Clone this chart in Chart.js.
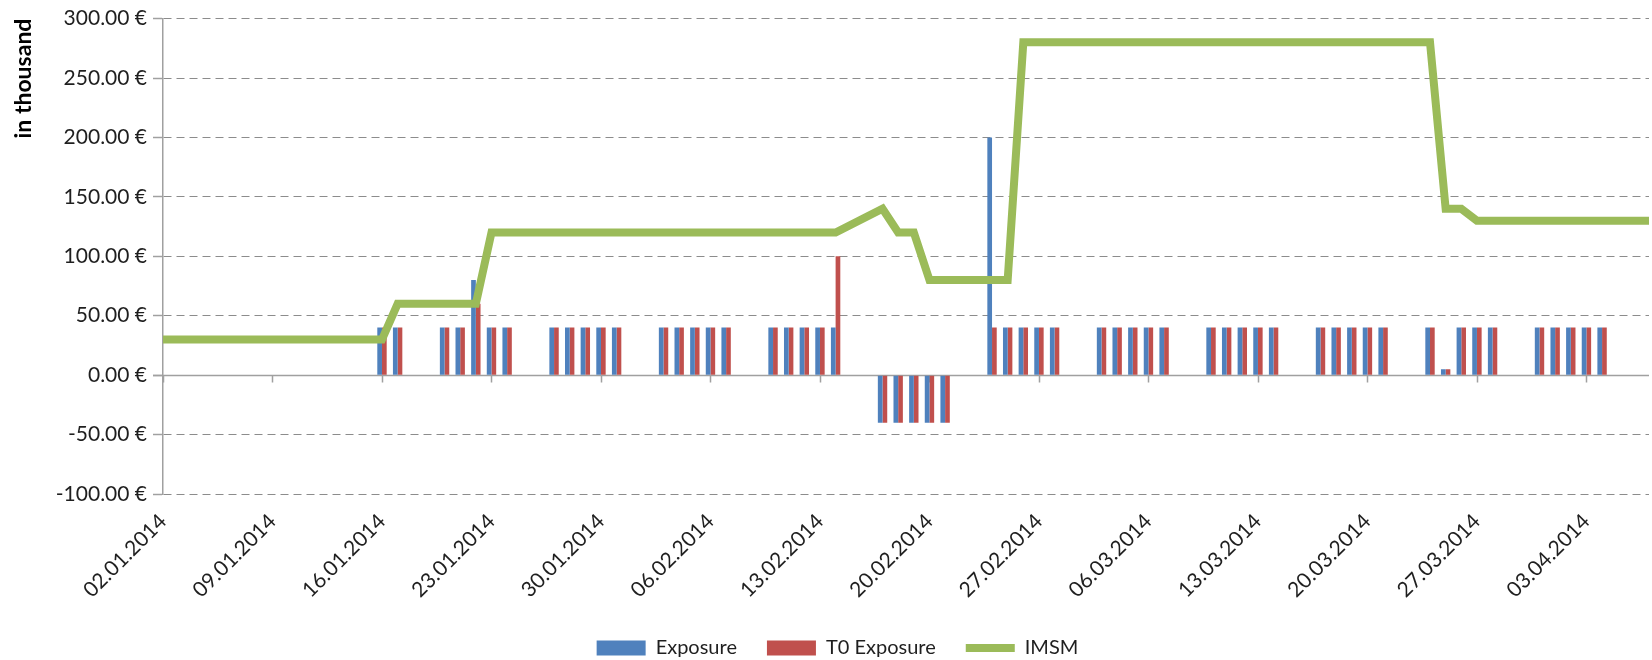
<!DOCTYPE html>
<html>
<head>
<meta charset="utf-8">
<script src="https://cdn.jsdelivr.net/npm/chart.js@4.4.1/dist/chart.umd.min.js"></script>
<style>
  html, body { margin: 0; padding: 0; background: #fff; }
  #wrap { width: 1652px; height: 660px; }
</style>
</head>
<body>
<div id="wrap"><canvas id="chart" width="1652" height="660"></canvas></div>
<script>
// business days with a value (weekends are left empty on the date axis)
const tradeDays = [
  '02.01.2014', '03.01.2014', '06.01.2014', '07.01.2014', '08.01.2014', '09.01.2014', '10.01.2014',
  '13.01.2014', '14.01.2014', '15.01.2014', '16.01.2014', '17.01.2014',
  '20.01.2014', '21.01.2014', '22.01.2014', '23.01.2014', '24.01.2014',
  '27.01.2014', '28.01.2014', '29.01.2014', '30.01.2014', '31.01.2014',
  '03.02.2014', '04.02.2014', '05.02.2014', '06.02.2014', '07.02.2014',
  '10.02.2014', '11.02.2014', '12.02.2014', '13.02.2014', '14.02.2014',
  '17.02.2014', '18.02.2014', '19.02.2014', '20.02.2014', '21.02.2014',
  '24.02.2014', '25.02.2014', '26.02.2014', '27.02.2014', '28.02.2014',
  '03.03.2014', '04.03.2014', '05.03.2014', '06.03.2014', '07.03.2014',
  '10.03.2014', '11.03.2014', '12.03.2014', '13.03.2014', '14.03.2014',
  '17.03.2014', '18.03.2014', '19.03.2014', '20.03.2014', '21.03.2014',
  '24.03.2014', '25.03.2014', '26.03.2014', '27.03.2014', '28.03.2014',
  '31.03.2014', '01.04.2014', '02.04.2014', '03.04.2014', '04.04.2014',
  '07.04.2014'
];

const exposure = [
  null, null, null, null, null, null, null,
  null, null, null, 40, 40,
  40, 40, 80, 40, 40,
  40, 40, 40, 40, 40,
  40, 40, 40, 40, 40,
  40, 40, 40, 40, 40,
  -40, -40, -40, -40, -40,
  200, 40, 40, 40, 40,
  40, 40, 40, 40, 40,
  40, 40, 40, 40, 40,
  40, 40, 40, 40, 40,
  40, 5, 40, 40, 40,
  40, 40, 40, 40, 40,
  null
];

const t0Exposure = [
  null, null, null, null, null, null, null,
  null, null, null, 40, 40,
  40, 40, 60, 40, 40,
  40, 40, 40, 40, 40,
  40, 40, 40, 40, 40,
  40, 40, 40, 40, 100,
  -40, -40, -40, -40, -40,
  40, 40, 40, 40, 40,
  40, 40, 40, 40, 40,
  40, 40, 40, 40, 40,
  40, 40, 40, 40, 40,
  40, 5, 40, 40, 40,
  40, 40, 40, 40, 40,
  null
];

const imsm = [
  30, 30, 30, 30, 30, 30, 30,
  30, 30, 30, 30, 60,
  60, 60, 60, 120, 120,
  120, 120, 120, 120, 120,
  120, 120, 120, 120, 120,
  120, 120, 120, 120, 120,
  140, 120, 120, 80, 80,
  80, 80, 280, 280, 280,
  280, 280, 280, 280, 280,
  280, 280, 280, 280, 280,
  280, 280, 280, 280, 280,
  280, 140, 140, 130, 130,
  130, 130, 130, 130, 130,
  130
];

const yMin = -100;
const yMax = 300;
const yStep = 50;

// calendar axis: every day from first to last trade day
const DAY = 86400000;
const parseDay = s => { const [d, m, y] = s.split('.').map(Number); return Date.UTC(y, m - 1, d); };
const fmtDay = t => {
  const d = new Date(t);
  return String(d.getUTCDate()).padStart(2, '0') + '.' + String(d.getUTCMonth() + 1).padStart(2, '0') + '.' + d.getUTCFullYear();
};
const labels = [];
for (let t = parseDay(tradeDays[0]); t <= parseDay(tradeDays[tradeDays.length - 1]); t += DAY) {
  labels.push(fmtDay(t));
}
const onCalendar = vals => labels.map(l => {
  const i = tradeDays.indexOf(l);
  return i < 0 ? null : vals[i];
});

const BLUE = '#4F81BD';
const RED = '#C0504D';
const GREEN = '#9BBB59';
const AXIS = '#a0a0a0';
const TEXT = '#1f1f1f';
const FONT = 'Lato';
const PAD_BOTTOM = -8;
const PLOT_BOTTOM = 494;

const zeroAxis = {
  id: 'zeroAxis',
  beforeDatasetsDraw(chart) {
    const { ctx, chartArea, scales: { x, y } } = chart;
    const y0 = Math.round(y.getPixelForValue(0)) + 0.5;
    ctx.save();
    ctx.strokeStyle = AXIS;
    ctx.lineWidth = 1.5;
    ctx.beginPath();
    ctx.moveTo(chartArea.left - 10, y0);
    ctx.lineTo(chartArea.right, y0);
    for (let i = 0; i < labels.length; i += 7) {
      const px = Math.round(x.getPixelForValue(i)) + 0.5;
      ctx.moveTo(px, y0);
      ctx.lineTo(px, y0 + 7);
    }
    ctx.stroke();
    ctx.restore();
  }
};

new Chart(document.getElementById('chart'), {
  data: {
    labels: labels,
    datasets: [
      {
        type: 'bar',
        label: 'Exposure',
        data: onCalendar(exposure),
        backgroundColor: BLUE,
        categoryPercentage: 0.6,
        barPercentage: 1.0,
        order: 1
      },
      {
        type: 'bar',
        label: 'T0 Exposure',
        data: onCalendar(t0Exposure),
        backgroundColor: RED,
        categoryPercentage: 0.6,
        barPercentage: 1.0,
        order: 1
      },
      {
        type: 'line',
        label: 'IMSM',
        data: onCalendar(imsm),
        borderColor: GREEN,
        backgroundColor: GREEN,
        borderWidth: 8,
        borderJoinStyle: 'miter',
        pointRadius: 0,
        spanGaps: true,
        tension: 0,
        order: 0
      }
    ]
  },
  options: {
    responsive: false,
    animation: false,
    layout: { padding: { left: 26, right: 3, top: 10, bottom: PAD_BOTTOM } },
    plugins: {
      tooltip: { enabled: false },
      legend: {
        position: 'bottom',
        labels: {
          usePointStyle: true,
          pointStyleWidth: 49,
          boxHeight: 15,
          padding: 30,
          color: TEXT,
          font: { family: FONT, size: 20 },
          sort: (a, b) => a.datasetIndex - b.datasetIndex,
          generateLabels(chart) {
            const items = Chart.defaults.plugins.legend.labels.generateLabels(chart);
            items.forEach(it => {
              if (it.datasetIndex === 2) {
                it.pointStyle = 'line';
                it.lineWidth = 8;
                it.strokeStyle = GREEN;
              } else {
                it.pointStyle = 'rect';
                it.lineWidth = 0;
              }
            });
            return items;
          }
        }
      }
    },
    scales: {
      x: {
        type: 'category',
        offset: false,
        grid: { display: false },
        border: { display: false },
        ticks: {
          autoSkip: false,
          minRotation: 45,
          maxRotation: 45,
          padding: 7,
          color: TEXT,
          font: { family: FONT, size: 21 },
          callback: (v, i) => (i % 7 === 0 ? labels[i] : '')
        },
        afterFit(s) {
          s.height = s.chart.height - PLOT_BOTTOM - s.chart.legend.height - PAD_BOTTOM;
          s.paddingRight = 0;
          s.paddingLeft = 0;
        }
      },
      y: {
        min: yMin,
        max: yMax,
        grid: {
          color: '#8c8c8c',
          lineWidth: 1,
          tickLength: 10,
          tickColor: AXIS,
          tickWidth: 1.5
        },
        border: { display: true, color: AXIS, width: 1.5, dash: [8, 5] },
        ticks: {
          stepSize: yStep,
          padding: 6,
          color: TEXT,
          font: { family: FONT, size: 21 },
          callback: v => v.toFixed(2) + ' €'
        },
        title: {
          display: true,
          text: 'in thousand',
          align: 'end',
          color: '#000',
          font: { family: FONT, size: 23, weight: 'bold' },
          padding: { top: -16, bottom: 0 }
        },
        afterFit(s) {
          s.width = 163 - 26;
        }
      }
    }
  },
  plugins: [zeroAxis]
});
</script>
</body>
</html>
